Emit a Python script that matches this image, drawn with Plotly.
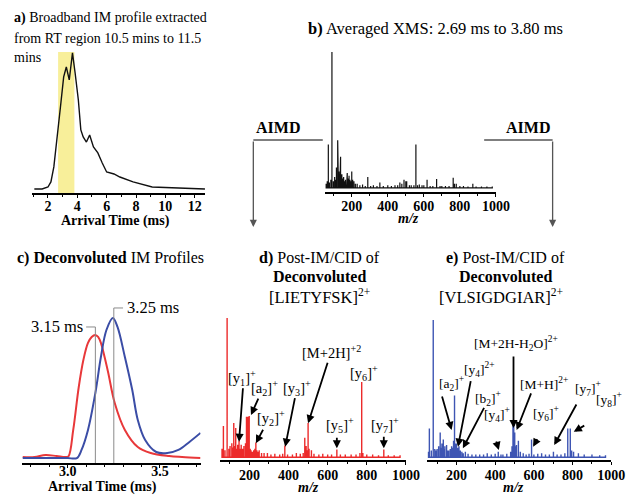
import plotly.graph_objects as go

W, H = 639, 495
SERIF = "Liberation Serif"

# ---------------- data ----------------
# (a) broadband IM profile
a_time = [1.07, 1.6, 2.0, 2.2, 2.4, 2.62, 2.85, 3.07, 3.25, 3.45, 3.67, 3.85, 4.07, 4.24, 4.4,
          4.62, 4.84, 5.1, 5.4, 5.7, 6.0, 6.5, 6.9, 7.8, 9.1, 10.9, 12.7]
a_int = [2.9, 2.9, 4.3, 7.9, 18.6, 37.9, 61.4, 82.9, 90.0, 80.7, 100, 85.7, 66.4, 45.0, 40.0,
         36.4, 41.4, 32.9, 28.6, 21.4, 15.0, 13.6, 11.4, 7.9, 4.3, 3.6, 2.9]
a_window = [2.69, 3.80]

# (b) averaged XMS
b_mz = [58, 64, 70, 76, 84, 90, 98, 105, 110, 115, 122, 126, 129, 134, 138, 142, 145, 150, 155, 160,
        165, 171, 175, 180, 185, 190, 195, 200, 205, 212, 220, 230, 245, 260, 275, 289, 305, 320, 340, 356,
        375, 400, 420, 440, 455, 467, 478, 490, 500, 505, 520, 530, 545, 556, 565, 575, 590, 600, 618, 635,
        650, 671, 690, 700, 720, 740, 763, 770, 780, 800, 820, 845, 872, 890, 920, 950, 980]
b_int = [3, 5, 32, 4, 6, 100, 5, 8, 6, 15, 35, 14, 12, 17, 23, 9, 10, 7, 8, 5,
         6, 4, 11, 7, 9, 6, 5, 12, 6, 5, 3, 3, 2, 2.5, 1.5, 8, 1.5, 2, 1.5, 4,
         1.5, 2, 1.5, 2, 2, 4, 3, 6, 5, 5, 2, 2, 2, 32, 2, 2.5, 2, 2, 6, 1.5,
         1.5, 6.5, 1.5, 1.5, 1.5, 1.5, 7.5, 3, 3, 1.5, 1.5, 1, 3, 1, 1, 1, 1]

# (c) deconvoluted IM profiles
c_red_t = [2.755, 2.82, 2.88, 2.94, 2.99, 3.005, 3.03, 3.06, 3.085, 3.11, 3.13, 3.15, 3.165, 3.18,
           3.2, 3.22, 3.255, 3.31, 3.38, 3.45, 3.55, 3.62, 3.72]
c_red = [4.1, 4.1, 5.5, 4.8, 4.1, 4.8, 22.8, 52.4, 71.0, 82.8, 86.9, 88.3, 86.9, 82.8,
         73.1, 62.1, 41.4, 22.8, 11.0, 6.9, 4.8, 4.1, 3.4]
c_blue_t = [2.755, 2.85, 2.95, 3.0, 3.05, 3.075, 3.11, 3.15, 3.18, 3.21, 3.245, 3.27, 3.31, 3.35,
            3.38, 3.42, 3.48, 3.54, 3.6, 3.66, 3.72]
c_blue = [3.4, 3.4, 3.4, 3.4, 3.4, 9.0, 22.8, 48.3, 73.1, 91.7, 100, 93.8, 73.1, 50.3,
          29.7, 15.9, 7.6, 6.9, 9.0, 14.5, 20.7]
c_marks = [3.15, 3.25]
c_mark_h = [93.8, 106.9]
c_mark_labels = ["3.15 ms", "3.25 ms"]

# (d) post-IM/CID of [LIETYFSK]2+
d_mz = [60, 67, 75, 86, 95, 101, 110, 115, 120, 126, 130, 136, 140, 147, 152, 158, 165, 172, 180, 185,
        190, 195, 199, 204, 208, 215, 222, 228, 233, 238, 245, 250, 262, 275, 292, 310, 330, 355, 370, 381,
        395, 420, 440, 460, 475, 483, 490, 495, 500, 505, 517, 530, 555, 575, 600, 620, 647, 665, 690, 720,
        745, 765, 774, 780, 800, 830, 860, 887, 910, 940, 970]
d_int = [6, 22.5, 5, 100, 6, 8, 10, 7, 24.6, 8, 21, 6, 9, 12, 6, 9, 6, 8, 10, 29,
         29, 29, 29.6, 6, 5, 4, 5, 6, 10.6, 5, 4, 5, 3, 3, 3, 2, 2.5, 2, 2.5, 8.5,
         2, 2, 3, 2.5, 3, 14, 8, 5, 24.6, 6, 5, 2.5, 2, 2.5, 2, 2, 5.6, 2, 2, 2,
         2, 3, 54, 3, 2, 2, 1.5, 5.6, 1.5, 1.5, 1.5]
d_labels = ["[y<sub>1</sub>]<sup>+</sup>", "[a<sub>2</sub>]<sup>+</sup>", "[y<sub>2</sub>]<sup>+</sup>",
            "[y<sub>3</sub>]<sup>+</sup>", "[M+2H]<sup>+2</sup>", "[y<sub>5</sub>]<sup>+</sup>",
            "[y<sub>6</sub>]<sup>+</sup>", "[y<sub>7</sub>]<sup>+</sup>"]
d_arrow_mz = [147, 208, 233, 383, 500, 647, 887]
d_arrow_h = [11.1, 30.3, 10.0, 7.6, 24.4, 6.4, 6.4]

# (e) post-IM/CID of [VLSIGDGIAR]2+
e_mz = [55, 60, 70, 80, 88, 95, 100, 108, 116, 120, 125, 132, 136, 140, 149, 155, 160, 168, 175, 180,
        185, 190, 195, 200, 207, 213, 220, 228, 235, 246, 260, 280, 300, 320, 340, 359, 380, 400, 416, 430,
        440, 460, 480, 487, 492, 496, 501, 505, 510, 520, 530, 545, 560, 575, 588, 600, 620, 640, 660, 680,
        701, 720, 740, 760, 775, 788, 795, 805, 830, 860, 900, 940, 970]
e_int = [4, 21, 5, 100, 6, 5, 6, 8, 18, 7, 10, 13, 6, 8, 9, 5, 5, 6, 8, 7,
         12, 45, 10, 10, 7, 8, 5, 4, 3, 4, 2.5, 2, 2, 2, 2, 3, 2, 2.5, 4, 2,
         2, 2.5, 4, 8, 23, 25, 18, 8, 9, 12, 4, 3, 2, 2.5, 13, 2, 2.5, 3, 2, 2,
         4, 2, 2, 3, 21, 21, 5, 4, 3, 2, 2, 1.5, 1.5]
e_labels = ["[M+2H-H<sub>2</sub>O]<sup>2+</sup>", "[y<sub>4</sub>]<sup>2+</sup>", "[a<sub>2</sub>]<sup>+</sup>",
            "[b<sub>2</sub>]<sup>+</sup>", "[M+H]<sup>2+</sup>", "[y<sub>4</sub>]<sup>+</sup>",
            "[y<sub>6</sub>]<sup>+</sup>", "[y<sub>7</sub>]<sup>+</sup>", "[y<sub>8</sub>]<sup>+</sup>"]
e_arrow_mz = [494.7, 208, 175, 233, 511, 419, 596, 705, 806]
e_arrow_h = [21.3, 7.7, 19.9, 6.5, 19.9, 5.3, 7.7, 8.9, 18.6]

assert len(b_mz) == len(b_int) and len(d_mz) == len(d_int) and len(e_mz) == len(e_int)


# ---------------- helpers ----------------
def X(px):
    return px / W


def Y(py):
    return 1 - py / H


def sticks(mz, inten):
    xs, ys = [], []
    for m, h in zip(mz, inten):
        xs += [m, m, m]
        ys += [0, h, 0]
    return xs, ys


def ann(px, py, text, size=14, xanchor="center", color="black"):
    return dict(x=X(px), y=Y(py), xref="paper", yref="paper", text=text, showarrow=False,
                xanchor=xanchor, yanchor="middle",
                font=dict(family=SERIF, size=size, color=color))


RED = "#EC2B2B"
BLUE = "#3E55B3"

fig = go.Figure()

# (a)
fig.add_trace(go.Scatter(x=a_time, y=a_int, mode="lines", line=dict(color="#111", width=1.4),
                         xaxis="x", yaxis="y", hoverinfo="skip"))
# (b)
bx, by = sticks(b_mz, b_int)
fig.add_trace(go.Scatter(x=bx, y=by, mode="lines", line=dict(color="#111", width=1.2),
                         xaxis="x2", yaxis="y2", hoverinfo="skip"))
# (c)
fig.add_trace(go.Scatter(x=c_red_t, y=c_red, mode="lines", line=dict(color="#E8383A", width=2, shape="spline"),
                         xaxis="x3", yaxis="y3", hoverinfo="skip"))
fig.add_trace(go.Scatter(x=c_blue_t, y=c_blue, mode="lines", line=dict(color="#3B4DA6", width=2, shape="spline"),
                         xaxis="x3", yaxis="y3", hoverinfo="skip"))
# (d)
dx, dy = sticks(d_mz, d_int)
fig.add_trace(go.Scatter(x=dx, y=dy, mode="lines", line=dict(color=RED, width=1.4),
                         xaxis="x4", yaxis="y4", hoverinfo="skip"))
# (e)
ex, ey = sticks(e_mz, e_int)
fig.add_trace(go.Scatter(x=ex, y=ey, mode="lines", line=dict(color=BLUE, width=1.4),
                         xaxis="x5", yaxis="y5", hoverinfo="skip"))


def xaxis(dom, rng, dtick, minor, anchor, fmt=None, fsize=14, standoff=0):
    d = dict(domain=[X(dom[0]), X(dom[1])], range=rng, anchor=anchor, showline=True,
             linecolor="black", linewidth=1.5, ticks="outside", ticklen=3, tickwidth=1,
             tickcolor="black", dtick=dtick, tick0=0, showgrid=False, zeroline=False,
             tickfont=dict(family=SERIF, size=fsize, color="black", weight="bold"),
             ticklabelstandoff=standoff, fixedrange=True,
             minor=dict(ticks="outside", ticklen=2, dtick=minor, tickcolor="black", showgrid=False))
    if fmt:
        d["tickformat"] = fmt
    return d


def yaxis(bot, top, rng, anchor):
    return dict(domain=[Y(bot), Y(top)], range=rng, anchor=anchor, visible=False,
                showgrid=False, zeroline=False, fixedrange=True)


layout = dict(
    width=W, height=H, autosize=False, margin=dict(l=0, r=0, t=0, b=0),
    paper_bgcolor="white", plot_bgcolor="rgba(0,0,0,0)", showlegend=False,
    font=dict(family=SERIF, size=14, color="black"),
    xaxis=xaxis((33, 210), [0.93, 12.73], 2, 1, "y", standoff=-4),
    yaxis=yaxis(193, 50, [0, 102.1], "x"),
    xaxis2=xaxis((332, 507), [50, 1000], 200, 100, "y2", standoff=-3),
    yaxis2=yaxis(192, 52, [-3, 100], "x2"),
    xaxis3=xaxis((23, 205), [2.755, 3.72], 0.5, 0.1, "y3", ".1f", fsize=14, standoff=-9),
    yaxis3=yaxis(463, 300, [0, 112.4], "x3"),
    xaxis4=xaxis((225, 415), [50, 1000], 200, 100, "y4", standoff=-2),
    yaxis4=yaxis(460, 318, [-2, 100], "x4"),
    xaxis5=xaxis((437, 625), [50, 1000], 200, 100, "y5", standoff=-2),
    yaxis5=yaxis(460, 320, [-2, 100], "x5"),
)

shapes = []
# yellow window in (a)
shapes.append(dict(type="rect", xref="x", yref="y", x0=a_window[0], x1=a_window[1], y0=0, y1=100.7,
                   fillcolor="#F8EF9A", line=dict(width=0), layer="below"))
# marker lines in (c)
for i, (t, h) in enumerate(zip(c_marks, c_mark_h)):
    shapes.append(dict(type="line", xref="x3", yref="y3", x0=t, x1=t, y0=0, y1=h,
                       line=dict(color="#8a8a8a", width=1)))
    x_end = t - 0.05 if i == 0 else t + 0.05
    shapes.append(dict(type="line", xref="x3", yref="y3", x0=t, x1=x_end, y0=h, y1=h,
                       line=dict(color="#8a8a8a", width=1)))
# AIMD connector lines
GRAY = "#555555"
shapes.append(dict(type="line", xref="paper", yref="paper", x0=X(259), x1=X(330), y0=Y(140), y1=Y(140),
                   line=dict(color=GRAY, width=1.3)))
shapes.append(dict(type="line", xref="paper", yref="paper", x0=X(495), x1=X(565), y0=Y(140), y1=Y(140),
                   line=dict(color=GRAY, width=1.3)))

annotations = []
# titles
annotations.append(ann(12, 18, "<b>a)</b> Broadband IM profile extracted", xanchor="left"))
annotations.append(ann(12, 38, "from RT region 10.5 mins to 11.5", xanchor="left"))
annotations.append(ann(12, 58, "mins", xanchor="left"))
annotations.append(ann(445, 28, "<b>b)</b> Averaged XMS: 2.69 ms to 3.80 ms", size=16.5))
annotations.append(ann(15, 258, "<b>c) Deconvoluted</b> IM Profiles", size=16, xanchor="left"))
annotations.append(ann(327, 258, "<b>d)</b> Post-IM/CID of", size=16))
annotations.append(ann(327, 276, "<b>Deconvoluted</b>", size=16))
annotations.append(ann(327, 296, "[LIETYFSK]<sup>2+</sup>", size=16.5))
annotations.append(ann(517, 258, "<b>e)</b> Post-IM/CID of", size=16))
annotations.append(ann(517, 276, "<b>Deconvoluted</b>", size=16))
annotations.append(ann(512, 296, "[VLSIGDGIAR]<sup>2+</sup>", size=16.5))
# axis titles
annotations.append(ann(118, 221, "<b>Arrival Time (ms)</b>"))
annotations.append(ann(418, 219, "<b><i>m/z</i></b>"))
annotations.append(ann(105, 487, "<b>Arrival Time (ms)</b>", size=14))
annotations.append(ann(315, 487, "<b><i>m/z</i></b>"))
annotations.append(ann(525, 487, "<b><i>m/z</i></b>"))
# AIMD
annotations.append(ann(284, 127, "<b>AIMD</b>", size=16))
annotations.append(ann(540, 127, "<b>AIMD</b>", size=16))
for xp in (259, 565):
    annotations.append(dict(x=X(xp), y=Y(227), xref="paper", yref="paper", ax=0, ay=-87,
                            axref="pixel", ayref="pixel", text="", showarrow=True,
                            arrowhead=2, arrowsize=1.1, arrowwidth=1.3, arrowcolor=GRAY))
# (c) peak labels
annotations.append(dict(x=c_marks[0] - 0.05, y=c_mark_h[0], xref="x3", yref="y3", text=c_mark_labels[0],
                        showarrow=False, xanchor="right", yanchor="middle", xshift=-1,
                        font=dict(family=SERIF, size=16.5)))
annotations.append(dict(x=c_marks[1] + 0.05, y=c_mark_h[1], xref="x3", yref="y3", text=c_mark_labels[1],
                        showarrow=False, xanchor="left", yanchor="middle", xshift=2,
                        font=dict(family=SERIF, size=16.5)))

# (d) fragment labels and arrows
d_label_pos = [(247, 378), (270, 388), (277, 418), (304, 388), (339, 352), (348, 425), (372, 373), (394, 425)]
for t, (px, py) in zip(d_labels, d_label_pos):
    annotations.append(ann(px, py, t, size=14.5))
d_tails = [(4, -55), (8, -18), (8, -15), (10, -50), (20, -62), (0, -12), (0, -13)]
for m, h, (ax, ay) in zip(d_arrow_mz, d_arrow_h, d_tails):
    annotations.append(dict(x=m, y=h, xref="x4", yref="y4", ax=ax, ay=ay, axref="pixel", ayref="pixel",
                            text="", showarrow=True, arrowhead=2, arrowsize=0.9, arrowwidth=1.8,
                            arrowcolor="black"))

# (e) fragment labels and arrows
e_label_pos = [(528, 343), (490, 369), (462, 383), (499, 398), (556, 383), (508, 414), (558, 413),
               (601, 388), (623, 399)]
for t, (px, py) in zip(e_labels, e_label_pos):
    annotations.append(ann(px, py, t, size=13.5))
e_tails = [(0, -73), (13, -67), (-10, -35), (22, -42), (15, -38), (-3, -10), (5, -9), (23, -42), (12, -7)]
for m, h, (ax, ay) in zip(e_arrow_mz, e_arrow_h, e_tails):
    annotations.append(dict(x=m, y=h, xref="x5", yref="y5", ax=ax, ay=ay, axref="pixel", ayref="pixel",
                            text="", showarrow=True, arrowhead=2, arrowsize=0.9, arrowwidth=1.8,
                            arrowcolor="black"))

layout["shapes"] = shapes
layout["annotations"] = annotations
fig.update_layout(**layout)
fig.write_html("out.html")
